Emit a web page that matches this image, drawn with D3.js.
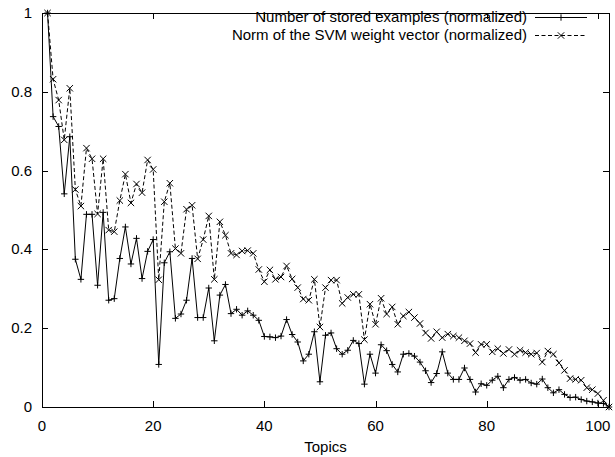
<!DOCTYPE html>
<html><head><meta charset="utf-8">
<script src="https://cdn.jsdelivr.net/npm/d3@7"></script>
<style>body{margin:0;background:#fff}svg text{font-family:"Liberation Sans",Arial,sans-serif;font-size:15px;fill:#000}</style>
</head><body><svg id="c" width="615" height="457"></svg>
<script>
const topics = d3.range(1, 103);
const storedExamples = [1.0,0.737,0.712,0.541,0.686,0.375,0.324,0.489,0.489,0.309,
0.494,0.271,0.275,0.377,0.457,0.363,0.428,0.326,0.395,0.425,
0.108,0.366,0.394,0.225,0.236,0.271,0.377,0.227,0.227,0.302,
0.168,0.284,0.311,0.237,0.248,0.233,0.244,0.233,0.220,0.179,
0.178,0.176,0.180,0.222,0.184,0.165,0.117,0.134,0.191,0.064,
0.182,0.188,0.148,0.134,0.144,0.169,0.161,0.058,0.134,0.086,
0.158,0.143,0.108,0.089,0.134,0.136,0.129,0.114,0.092,0.062,
0.085,0.140,0.086,0.070,0.070,0.099,0.070,0.038,0.059,0.055,
0.068,0.078,0.049,0.070,0.075,0.068,0.070,0.061,0.058,0.071,
0.049,0.036,0.044,0.032,0.024,0.025,0.019,0.015,0.013,0.010,
0.009,0.0];
const svmNorm = [1.0,0.832,0.779,0.678,0.809,0.552,0.510,0.657,0.630,0.490,
0.630,0.449,0.445,0.524,0.591,0.518,0.566,0.544,0.627,0.603,
0.323,0.521,0.568,0.402,0.390,0.502,0.512,0.376,0.425,0.485,
0.324,0.470,0.436,0.390,0.386,0.396,0.397,0.390,0.349,0.318,
0.348,0.324,0.330,0.358,0.325,0.303,0.274,0.271,0.324,0.203,
0.303,0.322,0.322,0.263,0.278,0.286,0.286,0.171,0.261,0.210,
0.276,0.236,0.254,0.210,0.231,0.241,0.227,0.212,0.188,0.174,
0.191,0.176,0.185,0.180,0.176,0.168,0.161,0.138,0.159,0.159,
0.140,0.148,0.136,0.146,0.134,0.144,0.138,0.134,0.137,0.114,
0.142,0.134,0.112,0.093,0.072,0.070,0.068,0.049,0.044,0.034,
0.017,0.0];
const xTicks = [0,20,40,60,80,100];
const yTicks = [0,0.2,0.4,0.6,0.8,1];
const legendLabels = ["Number of stored examples (normalized)","Norm of the SVM weight vector (normalized)"];

const L=42,R=609,T=13,B=407;
const svg=d3.select("#c");
const x=d3.scaleLinear().domain([0,102]).range([L,R]);
const y=d3.scaleLinear().domain([0,1]).range([B,T]);
const tl=6;
const g=svg.append("g").attr("stroke","#000").attr("stroke-width",1).attr("fill","none").attr("shape-rendering","crispEdges");
xTicks.forEach(v=>{const px=Math.round(x(v))+0.5;
  g.append("line").attr("x1",px).attr("x2",px).attr("y1",B).attr("y2",B-tl);
  g.append("line").attr("x1",px).attr("x2",px).attr("y1",T).attr("y2",T+tl);});
yTicks.forEach(v=>{const py=Math.round(y(v))+0.5;
  g.append("line").attr("x1",L).attr("x2",L+tl).attr("y1",py).attr("y2",py);
  g.append("line").attr("x1",R).attr("x2",R-tl).attr("y1",py).attr("y2",py);});
xTicks.forEach(v=>svg.append("text").attr("x",x(v)).attr("y",B+24).attr("text-anchor","middle").text(v));
yTicks.forEach(v=>svg.append("text").attr("x",L-10).attr("y",y(v)+5).attr("text-anchor","end").text(v));
svg.append("text").attr("x",(L+R)/2).attr("y",452).attr("text-anchor","middle").text("Topics");

const line=d3.line().x((d,i)=>x(topics[i])).y(d=>y(d));
svg.append("path").datum(storedExamples).attr("d",line).attr("fill","none").attr("stroke","#000").attr("stroke-width",1);
svg.append("path").datum(svmNorm).attr("d",line).attr("fill","none").attr("stroke","#000").attr("stroke-width",1).attr("stroke-dasharray","4,2.5");
const s=3.2;
function plus(sel,cx,cy){sel.append("path").attr("d",`M${cx-s},${cy}H${cx+s}M${cx},${cy-s}V${cy+s}`).attr("stroke","#000").attr("fill","none");}
function cross(sel,cx,cy){sel.append("path").attr("d",`M${cx-s},${cy-s}L${cx+s},${cy+s}M${cx-s},${cy+s}L${cx+s},${cy-s}`).attr("stroke","#000").attr("fill","none");}
const mk=svg.append("g");
storedExamples.forEach((d,i)=>plus(mk,x(topics[i]),y(d)));
svmNorm.forEach((d,i)=>cross(mk,x(topics[i]),y(d)));

svg.append("rect").attr("x",L+0.5).attr("y",T+0.5).attr("width",R-L).attr("height",B-T).attr("fill","none").attr("stroke","#000").attr("shape-rendering","crispEdges");

const ly=[17,35];
legendLabels.forEach((t,i)=>{
  svg.append("text").attr("x",527).attr("y",ly[i]+5).attr("text-anchor","end").text(t);
  const ln=svg.append("line").attr("x1",535).attr("x2",587).attr("y1",ly[i]+0.5).attr("y2",ly[i]+0.5).attr("stroke","#000");
  if(i===1) ln.attr("stroke-dasharray","4,2.5");
  if(i===0) plus(svg,561,ly[i]+0.5); else cross(svg,561,ly[i]+0.5);
});
</script></body></html>
